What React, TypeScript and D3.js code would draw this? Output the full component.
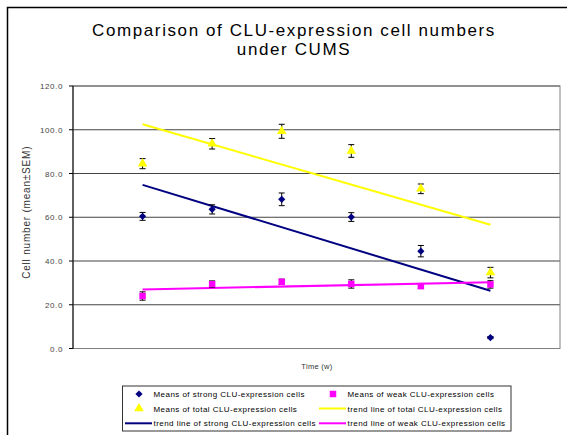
import React from "react";
import { scaleLinear, symbol, symbolSquare, symbolTriangle } from "d3";

// weeks on the x axis (no tick labels shown)
const weeks = [1, 2, 3, 4, 5, 6];
const yTicks = [0, 20, 40, 60, 80, 100, 120];

const strongMeans = [60.4, 63.6, 68.2, 60.1, 44.5, 5.0];
const strongSem = [1.8, 2.1, 2.9, 2.0, 2.6, 0.5];
const weakMeans = [24.0, 29.4, 30.5, 29.5, 28.5, 29.3];
const weakSem = [1.9, 1.5, 1.2, 1.9, 1.0, 1.7];
const totalMeans = [84.5, 93.6, 99.3, 90.3, 73.0, 34.7];
const totalSem = [2.3, 2.4, 3.2, 2.9, 2.2, 2.4];

// trend line values at first and last week
const strongTrend = [74.8, 26.4];
const weakTrend = [27.0, 30.3];
const totalTrend = [102.5, 56.6];

const W = 567;
const H = 435;
const left = 73;
const right = 560;
const top = 86;
const bottom = 348.5;

const FONT = "'Liberation Sans', Arial, sans-serif";

export default function App() {
  const x = scaleLinear().domain([0, 7]).range([left, right]);
  const y = scaleLinear().domain([0, 120]).range([bottom, top]);

  const diamond = symbol().type(symbolSquare).size(26)();
  const diamondT = " rotate(45)";
  const square = symbol().type(symbolSquare).size(42)();
  const triangle = symbol().type(symbolTriangle).size(40)();

  const errBars = (means: number[], sem: number[], key: string) =>
    means.map((m, i) => {
      const cx = x(weeks[i]);
      const y1 = y(m + sem[i]);
      const y2 = y(m - sem[i]);
      return (
        <g key={key + i} stroke="#000" strokeWidth={1}>
          <line x1={cx} x2={cx} y1={y1} y2={y2} />
          <line x1={cx - 3} x2={cx + 3} y1={y1} y2={y1} />
          <line x1={cx - 3} x2={cx + 3} y1={y2} y2={y2} />
        </g>
      );
    });

  const trend = (vals: number[], color: string) => (
    <line
      x1={x(weeks[0])}
      x2={x(weeks[weeks.length - 1])}
      y1={y(vals[0])}
      y2={y(vals[1])}
      stroke={color}
      strokeWidth={2}
    />
  );

  const legendItems = [
    { kind: "diamond", color: "#000080", label: "Means of strong CLU-expression cells", col: 0, row: 0 },
    { kind: "square", color: "#FF00FF", label: "Means of weak CLU-expression cells", col: 1, row: 0 },
    { kind: "triangle", color: "#FFFF00", label: "Means of total CLU-expression cells", col: 0, row: 1 },
    { kind: "line", color: "#FFFF00", label: "trend line of total CLU-expression cells", col: 1, row: 1 },
    { kind: "line", color: "#000080", label: "trend line of strong CLU-expression cells", col: 0, row: 2 },
    { kind: "line", color: "#FF00FF", label: "trend line of weak CLU-expression cells", col: 1, row: 2 },
  ];
  const legCols = [125, 319];
  const legRows = [394, 408.5, 423.3];

  return (
    <svg
      width={W}
      height={H}
      style={{ position: "absolute", left: 0, top: 0, background: "#fff" }}
      fontFamily={FONT}
    >
      <rect x={7.5} y={7.5} width={W} height={H} fill="#fff" stroke="#000" strokeWidth={1.5} />

      <text x={294} y={36} textAnchor="middle" fontSize={17} letterSpacing={1.6} fill="#000">
        Comparison of CLU-expression cell numbers
      </text>
      <text x={294} y={55} textAnchor="middle" fontSize={17} letterSpacing={1.6} fill="#000">
        under CUMS
      </text>

      {/* gridlines */}
      {yTicks.map((t) => (
        <line key={"g" + t} x1={left} x2={right} y1={y(t)} y2={y(t)} stroke="#444" strokeWidth={1} />
      ))}
      <rect x={left} y={top} width={right - left} height={bottom - top} fill="none" stroke="#808080" />
      <line x1={left} x2={left} y1={top} y2={bottom} stroke="#000" strokeWidth={1} />
      {yTicks.map((t) => (
        <g key={"t" + t}>
          <line x1={left - 4} x2={left} y1={y(t)} y2={y(t)} stroke="#000" />
          <text x={63} y={y(t) + 3} textAnchor="end" fontSize={8} letterSpacing={0.6} fill="#444">
            {t.toFixed(1)}
          </text>
        </g>
      ))}

      <text
        transform={`translate(30,${(top + bottom) / 2 - 5}) rotate(-90)`}
        textAnchor="middle"
        fontSize={10}
        letterSpacing={0.8}
        fill="#333"
      >
        Cell number (mean±SEM)
      </text>
      <text x={317} y={369} textAnchor="middle" fontSize={7.5} letterSpacing={0.3} fill="#333">
        Time (w)
      </text>

      {trend(totalTrend, "#FFFF00")}
      {trend(strongTrend, "#000080")}
      {trend(weakTrend, "#FF00FF")}

      {errBars(totalMeans, totalSem, "te")}
      {errBars(strongMeans, strongSem, "se")}
      {errBars(weakMeans, weakSem, "we")}

      {totalMeans.map((m, i) => (
        <path key={"tm" + i} d={triangle} transform={`translate(${x(weeks[i])},${y(m)})`} fill="#FFFF00" />
      ))}
      {strongMeans.map((m, i) => (
        <path key={"sm" + i} d={diamond} transform={`translate(${x(weeks[i])},${y(m)})${diamondT}`} fill="#000080" />
      ))}
      {weakMeans.map((m, i) => (
        <path key={"wm" + i} d={square} transform={`translate(${x(weeks[i])},${y(m)})`} fill="#FF00FF" />
      ))}

      {/* legend */}
      <rect x={122.5} y={386} width={388.5} height={45} fill="#fff" stroke="#333" strokeWidth={1} />
      {legendItems.map((it, i) => {
        const lx = legCols[it.col];
        const ly = legRows[it.row];
        let mark;
        if (it.kind === "line") {
          mark = <line x1={lx} x2={lx + 27} y1={ly} y2={ly} stroke={it.color} strokeWidth={2} />;
        } else {
          const d = it.kind === "diamond" ? diamond : it.kind === "square" ? square : triangle;
          const sc = it.kind === "diamond" ? diamondT : "";
          mark = <path d={d} transform={`translate(${lx + 14},${ly})${sc}`} fill={it.color} />;
        }
        return (
          <g key={"l" + i}>
            {mark}
            <text x={lx + 28.5} y={ly + 3} fontSize={8} letterSpacing={0.45} fill="#000">
              {it.label}
            </text>
          </g>
        );
      })}
    </svg>
  );
}
